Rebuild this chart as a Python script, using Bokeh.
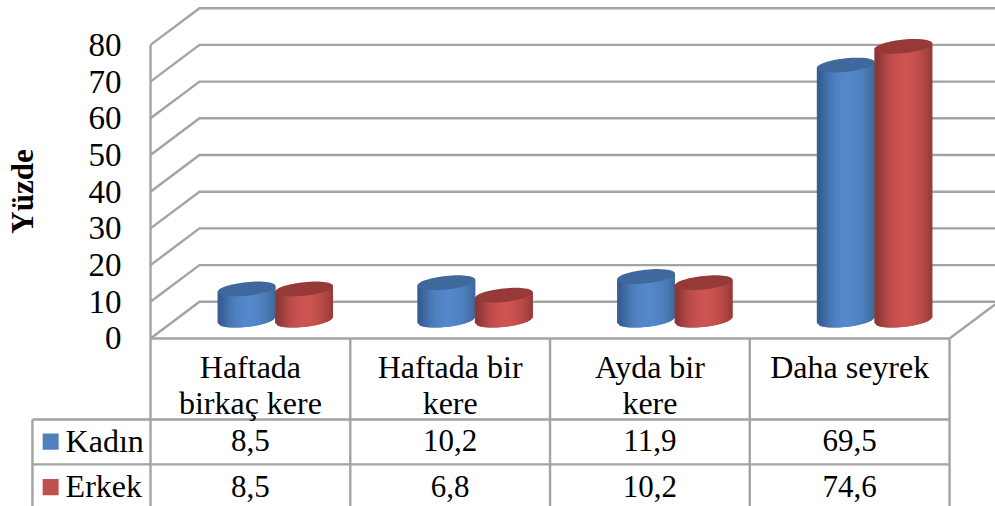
import math
from bokeh.plotting import figure
from bokeh.models import Range1d, LinearAxis, FixedTicker
from bokeh.core.properties import value
from bokeh.embed import file_html
from bokeh.resources import INLINE

categories = ["Haftada\nbirkaç kere", "Haftada bir\nkere", "Ayda bir\nkere", "Daha seyrek"]
kadin = [8.5, 10.2, 11.9, 69.5]
erkek = [8.5, 6.8, 10.2, 74.6]
kadin_labels = ["8,5", "10,2", "11,9", "69,5"]
erkek_labels = ["8,5", "6,8", "10,2", "74,6"]
series_names = ["Kadın", "Erkek"]
y_ticks = [0, 10, 20, 30, 40, 50, 60, 70, 80]
y_title = "Yüzde"

FONT = value("Liberation Serif")
GRID = "#a3a3a3"
BLUE = ((0x35, 0x5f, 0x94), (0x55, 0x88, 0xca), (0x3f, 0x69, 0x9c))
RED = ((0x8c, 0x38, 0x36), (0xcc, 0x54, 0x51), (0x96, 0x3a, 0x38))
KEY = ["#4f81bd", "#c0504d"]

DX, DY = 0.245, 10.0          # depth of the 3D floor, in data units
R, B, TILT = 0.145, 1.85, 0.8  # cylinder radii and ellipse tilt
SPACING = 0.144
ROW1, ROW2, BOTTOM, LEFT = -22.07, -34.3, -45.8, -0.591

p = figure(width=995, height=506, output_backend="svg", toolbar_location=None,
           x_range=Range1d(-0.751, 4.230), y_range=Range1d(-45.78, 92.1),
           x_axis_location=None, y_axis_location=None, min_border=0,
           outline_line_color=None, background_fill_color="white")
p.grid.visible = False

# walls
xs, ys = [], []
for v in y_ticks:
    xs.append([0, DX, 4.3]); ys.append([v, v + DY, v + DY])
xs.append([0, 0]); ys.append([0, y_ticks[-1]])
xs.append([4, 4 + DX]); ys.append([0, DY])
# table
xs.append([0, 4]); ys.append([0, 0])
xs.append([LEFT, 4]); ys.append([ROW1, ROW1])
xs.append([LEFT, 4]); ys.append([ROW2, ROW2])
xs.append([LEFT, LEFT]); ys.append([ROW1, BOTTOM])
for i in range(5):
    xs.append([i, i]); ys.append([0, BOTTOM])
p.multi_line(xs, ys, line_color=GRID, line_width=2.4)


def shade(col, u):
    left, mid, right = col
    t = abs(u - 0.05) ** 2
    end = left if u < 0.05 else right
    return "#%02x%02x%02x" % tuple(round(mid[k] + (end[k] - mid[k]) * min(1, t * 1.15)) for k in range(3))


def cylinder(cx, val, col):
    base = DY / 2
    top = base + val
    n = 30
    us = [-1 + 2 * i / n for i in range(n + 1)]
    low = [base - B * math.sqrt(max(0, 1 - u * u)) + TILT * u for u in us]
    mid = [top + TILT * u for u in us]
    sx, sy, fc = [], [], []
    for i in range(n):
        j = min(n, i + 2)     # each strip runs under the next, so no seams show
        x0, x1 = cx + R * us[i], cx + R * us[j]
        sx.append([x0, x1, x1, x0])
        sy.append([low[i], low[j], mid[j], mid[i]])
        fc.append(shade(col, (us[i] + us[i + 1]) / 2))
    p.patches(sx, sy, fill_color=fc, line_color=None)
    ang = [2 * math.pi * i / 60 for i in range(60)]
    capx = [cx + R * math.cos(a) for a in ang]
    capy = [top + TILT * math.cos(a) + B * math.sin(a) for a in ang]
    p.patch(capx, capy, fill_color="#%02x%02x%02x" % col[2], line_color=None)


for i in range(len(categories)):
    centre = i + 0.5 + DX / 2 + 0.002
    cylinder(centre - SPACING, kadin[i], BLUE)
    cylinder(centre + SPACING, erkek[i], RED)

# y axis
ax = LinearAxis(ticker=FixedTicker(ticks=y_ticks), fixed_location=0, bounds=(0, 80),
                axis_line_color=None, major_tick_line_color=None, minor_tick_line_color=None,
                major_label_text_font="Liberation Serif", major_label_text_font_size="33px",
                major_label_text_color="#000000", major_label_standoff=23,
                axis_label=y_title, axis_label_text_font="Liberation Serif",
                axis_label_text_font_size="31px", axis_label_text_font_style="bold",
                axis_label_text_color="#000000", axis_label_standoff=46)
p.add_layout(ax, "left")

# table text
cx = [i + 0.5 for i in range(4)]
line1 = [c.split("\n")[0] for c in categories]
line2 = [c.split("\n")[1] if "\n" in c else "" for c in categories]
kw = dict(text_font=FONT, text_color="#000000", text_align="center", text_baseline="middle")
p.text(cx, [-7.8] * 4, text=line1, text_font_size="32px", **kw)
p.text(cx, [-17.5] * 4, text=line2, text_font_size="32px", **kw)
p.text(cx, [-27.9] * 4, text=kadin_labels, text_font_size="31px", **kw)
p.text(cx, [-40.3] * 4, text=erkek_labels, text_font_size="31px", **kw)
kw["text_align"] = "left"
p.text([-0.425] * 2, [-27.9, -40.3], text=series_names, text_font_size="32px", **kw)
p.rect([-0.5] * 2, [-28.1, -40.5], width=0.08, height=4.4, fill_color=KEY, line_color=None)

open("out.html", "w").write(file_html(p, INLINE))
